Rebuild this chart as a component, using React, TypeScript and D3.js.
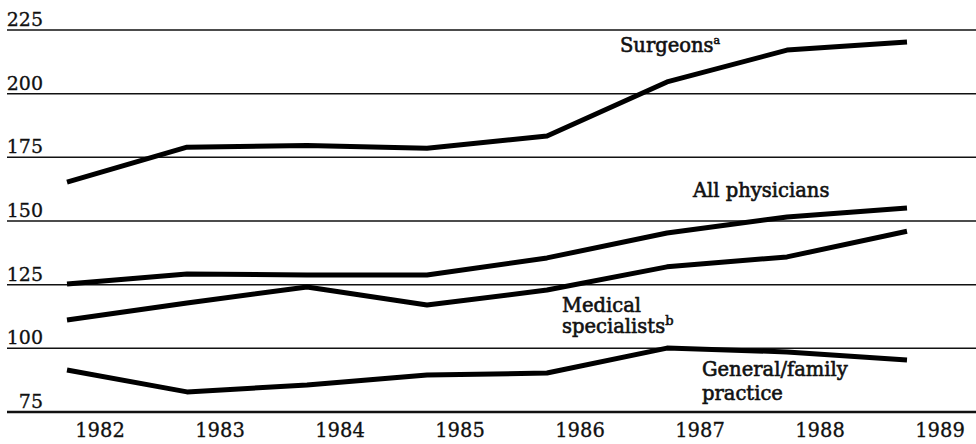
import * as d3 from "d3";
import React from "react";

// years on the x axis
const years = [1982, 1983, 1984, 1985, 1986, 1987, 1988, 1989];
const yTicks = [75, 100, 125, 150, 175, 200, 225];

// index values
const surgeons = [165.3, 179.0, 179.6, 178.6, 183.4, 204.6, 217.1, 220.3];
const allPhysicians = [125.3, 129.2, 128.8, 128.8, 135.5, 145.3, 151.6, 155.1];
const medicalSpecialists = [111.1, 117.8, 124.1, 117.0, 122.9, 132.0, 135.9, 146.0];
const generalFamily = [91.5, 82.9, 85.6, 89.5, 90.3, 100.1, 98.6, 95.4];

const series = [surgeons, allPhysicians, medicalSpecialists, generalFamily];

export default function App({
  width = 976,
  height = 444,
  marginTop = 30,
  marginBottom = 32,
  gridLeft = 7
}) {
  const font = "'DejaVu Serif', 'Liberation Serif', serif";

  const y = d3
    .scaleLinear()
    .domain([75, 225])
    .range([height - marginBottom, marginTop]);

  // data points sit a bit left of the year labels
  const x = d3.scalePoint<number>().domain(years).range([67, 907]);
  const xLabel = d3.scalePoint<number>().domain(years).range([100, 940]);

  const line = d3
    .line<number>()
    .x((d, i) => x(years[i]) as number)
    .y((d) => y(d));

  return (
    <div style={{ position: "absolute", left: 0, top: 0 }}>
      <svg width={width} height={height} style={{ display: "block", background: "#fff" }}>
        {/* gridlines */}
        {yTicks.map((t) => (
          <line
            key={t}
            x1={gridLeft}
            x2={width}
            y1={y(t)}
            y2={y(t)}
            stroke="#111"
            strokeWidth={t === 75 ? 2.5 : 1.5}
          />
        ))}
        {/* y tick labels */}
        <g fontFamily={font} fontSize={19} fill="#111" stroke="#111" strokeWidth={0.3} textAnchor="end">
          {yTicks.map((t) => (
            <text key={t} x={43} y={y(t) - 4}>
              {t}
            </text>
          ))}
        </g>
        {/* x tick labels */}
        <g fontFamily={font} fontSize={19.5} fill="#111" stroke="#111" strokeWidth={0.3} textAnchor="middle">
          {years.map((yr) => (
            <text key={yr} x={xLabel(yr)} y={437}>
              {yr}
            </text>
          ))}
        </g>
        {/* series lines */}
        <g fill="none" stroke="#000" strokeWidth={5} strokeLinejoin="round">
          {series.map((s, i) => (
            <path key={i} d={line(s) ?? ""} />
          ))}
        </g>
        {/* series labels */}
        <g fontFamily={font} fontSize={19.5} fill="#111" stroke="#111" strokeWidth={0.6}>
          <text x={620} y={52}>
            Surgeons<tspan fontSize={11} dy={-8}>a</tspan>
          </text>
          <text x={693} y={197}>All physicians</text>
          <text x={562} y={312}>Medical</text>
          <text x={562} y={333}>
            specialists<tspan fontSize={13} dy={-8}>b</tspan>
          </text>
          <text x={702} y={376}>General/family</text>
          <text x={702} y={400}>practice</text>
        </g>
      </svg>
    </div>
  );
}
